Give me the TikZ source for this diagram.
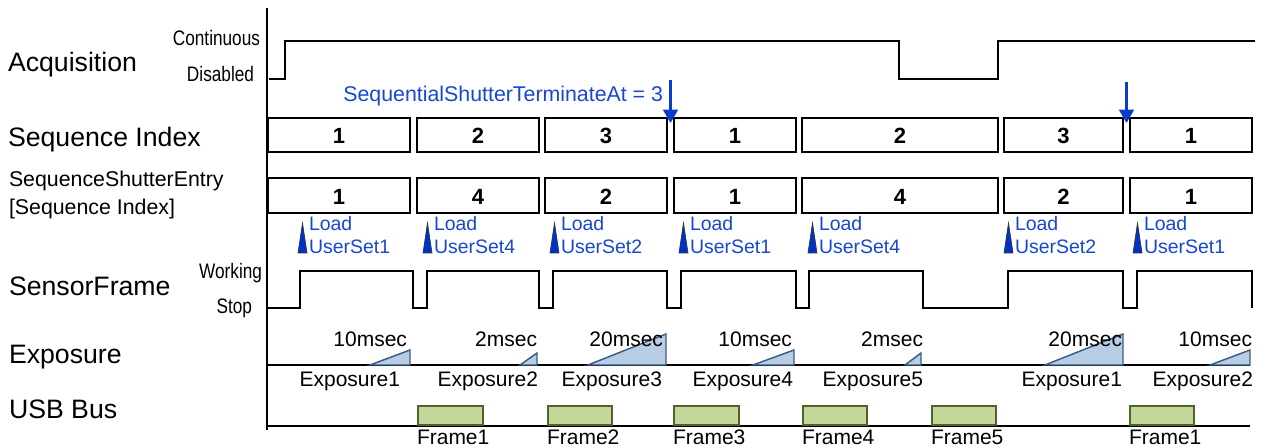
\documentclass[tikz,border=0pt]{standalone}
\usepackage{fontspec}
\setmainfont{Liberation Sans}
\newfontfamily\narrowfont[FakeStretch=0.82]{Liberation Sans}
\usetikzlibrary{arrows.meta,calc,fit}

\definecolor{annoblue}{RGB}{24,70,212}
\definecolor{arrowblue}{RGB}{8,60,205}
\definecolor{markblue}{RGB}{0,50,200}
\definecolor{expfill}{RGB}{184,204,228}
\definecolor{expline}{RGB}{56,93,138}
\definecolor{busfill}{RGB}{196,215,155}
\definecolor{busline}{RGB}{79,98,40}

\begin{document}
\begin{tikzpicture}[x=0.75pt,y=-0.75pt,
  every node/.style={inner sep=0pt,outer sep=0pt},
  rowlabel/.style={anchor=base west,font=\fontsize{20}{24}\selectfont},
  sublabel/.style={anchor=base west,font=\fontsize{16}{19}\selectfont},
  levellabel/.style={anchor=base east,font=\narrowfont\fontsize{15.75}{18}\selectfont},
  seqbox/.style={draw,line width=1.3pt},
  boxnum/.style={anchor=base,font=\bfseries\fontsize{16.5}{20}\selectfont},
  signal/.style={line width=1.1pt,line join=miter},
  axisline/.style={line width=1.3pt},
  termarrow/.style={arrowblue,line width=2pt,-{Triangle[width=11pt,length=10pt]}},
  annotation/.style={annoblue,font=\fontsize{16}{19}\selectfont},
  loadtext/.style={annoblue,anchor=base west,font=\fontsize{14.6}{17}\selectfont},
  trigmark/.style={fill=markblue,draw=black!80,line width=0.5pt},
  expramp/.style={fill=expfill,draw=expline,line width=1.1pt,line join=miter},
  explabel/.style={font=\fontsize{15.75}{19}\selectfont},
  busframe/.style={fill=busfill,draw=busline,line width=1.3pt}
]
\useasboundingbox (0,0) rectangle (1267,448);

% row titles
\node[rowlabel] (lAcq) at (8,72) {Acquisition};
\node[rowlabel] (lIdx) at (8,147) {Sequence Index};
\node[sublabel] (lEntry) at (9,187) {SequenceShutterEntry};
\node[sublabel] (lEntryIdx) at (9,215) {[Sequence Index]};
\node[rowlabel] (lSensor) at (9,296) {SensorFrame};
\node[rowlabel] (lExp) at (9,364) {Exposure};
\node[rowlabel] (lUsb) at (9,419) {USB Bus};

% signal level names
\node[levellabel] (lvCont) at (260,46) {Continuous};
\node[levellabel] (lvDis) at (254,82) {Disabled};
\node[levellabel] (lvWork) at (262,279) {Working};
\node[levellabel] (lvStop) at (252,314) {Stop};

% time axes
\coordinate (axTop) at (267,8);
\coordinate (axBot) at (267,430);
\coordinate (busStart) at (267,426);
\coordinate (busEnd) at (1250,426);
\coordinate (expStart) at (267,365);
\coordinate (expEnd) at (1250,365);
\draw[axisline] (axTop) -- (axBot);
\draw[axisline] (busStart) -- (busEnd);
\draw[line width=1.1pt] (expStart) -- (expEnd);

% acquisition state
\draw[signal] (269,79) -- (285,79) -- (285,41) -- (899,41) -- (899,79)
  -- (998,79) -- (998,41) -- (1255,41);

% sequence index and shutter entry
\foreach [count=\i] \xa/\xb/\s/\e in {268/410/1/1, 417/539/2/4, 545/667/3/2,
    674/796/1/1, 802/998/2/4, 1004/1123/3/2, 1130/1252/1/1} {
  \node[seqbox,fit={(\xa,118) (\xb,152)}] (si\i) {};
  \node[boxnum] (siNum\i) at ($(si\i.center)+(0,9)$) {\s};
  \node[seqbox,fit={(\xa,178) (\xb,213)}] (se\i) {};
  \node[boxnum] (seNum\i) at ($(se\i.center)+(0,9.5)$) {\e};
}

% terminate markers
\node[annotation,anchor=base east] (termText) at (663,102) {SequentialShutterTerminateAt = 3};
\coordinate (gapA) at ($(si3.north east)!0.5!(si4.north west)+(0,5)$);
\coordinate (gapB) at ($(si6.north east)!0.5!(si7.north west)+(0,5)$);
\coordinate (termA) at ($(gapA)+(0,-43)$);
\coordinate (termB) at ($(gapB)+(0,-41)$);
\draw[termarrow] (termA) -- (gapA);
\draw[termarrow] (termB) -- (gapB);

% user set loads
\foreach [count=\i] \xm/\n in {298/1, 423/4, 550/2, 679/1, 808/4, 1004/2, 1133/1} {
  \draw[trigmark] (\xm,253) -- (\xm+4.5,223) -- (\xm+9,253) -- cycle;
  \node[loadtext] (ld\i) at (\xm+11,231) {Load};
  \node[loadtext] (us\i) at (\xm+11,254) {UserSet\n};
}

% sensor frame state
\draw[signal] (268,308) -- (300,308) -- (300,271) -- (413,271) -- (413,308)
  -- (427,308) -- (427,271) -- (539,271) -- (539,308)
  -- (553,308) -- (553,271) -- (667,271) -- (667,308)
  -- (681,308) -- (681,271) -- (796,271) -- (796,308)
  -- (809,308) -- (809,271) -- (923,271) -- (923,308)
  -- (1008,308) -- (1008,271) -- (1123,271) -- (1123,308)
  -- (1137,308) -- (1137,271) -- (1252,271) -- (1252,308);

% exposures
\foreach [count=\i] \xa/\xb/\yt/\d/\dr/\n/\nr in {370/410/350/10/407/1/400,
    520/537/353/2/537/2/538, 588/666/334/20/663/3/662, 753/794/350/10/792/4/793,
    905/921/353/2/923/5/923, 1045/1123/334/20/1122/1/1122, 1210/1250/350/10/1252/2/1253} {
  \filldraw[expramp] (\xa,365) -- (\xb,\yt) -- (\xb,365) -- cycle;
  \node[explabel,anchor=base east] (dur\i) at (\dr,347) {\d msec};
  \node[explabel,anchor=base east] (exp\i) at (\nr,387) {Exposure\n};
}

% frames on the bus
\foreach [count=\i] \xa/\xb/\n in {418/483/1, 548/612/2, 674/739/3, 803/867/4,
    932/996/5, 1130/1194/1} {
  \node[busframe,fit={(\xa,406) (\xb,425)}] (fr\i) {};
  \node[explabel,anchor=base west] (frl\i) at (\xa-1,445) {Frame\n};
}
\end{tikzpicture}
\end{document}
